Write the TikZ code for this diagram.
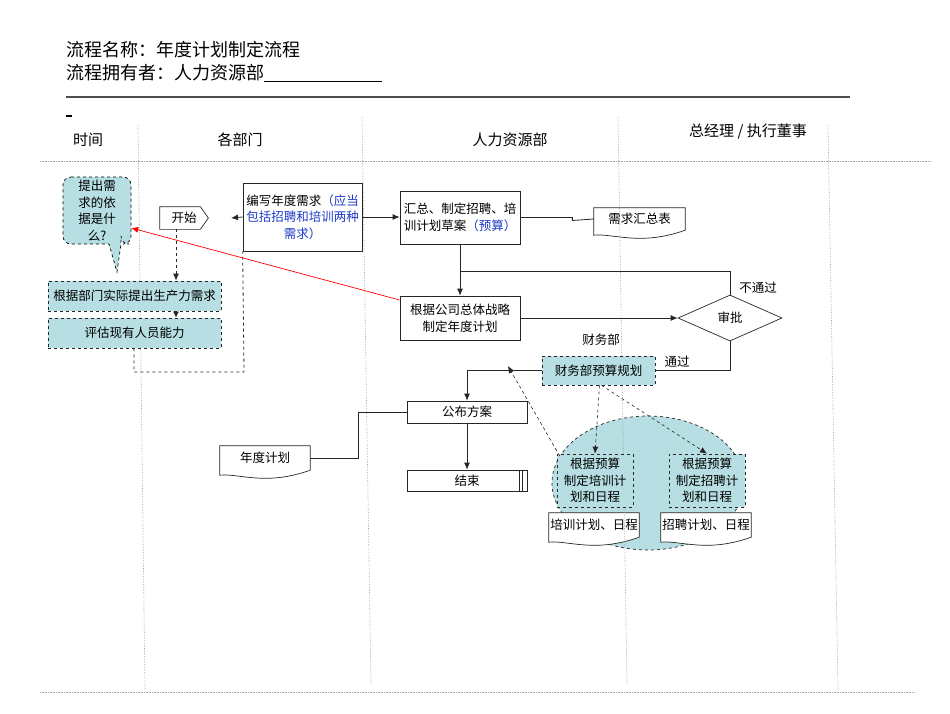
\documentclass[tikz,border=0pt]{standalone}
\usepackage{fontspec}
\setmainfont{Noto Sans CJK SC}
\usetikzlibrary{shapes.geometric,arrows.meta,calc,backgrounds}
\definecolor{tealfill}{RGB}{183,222,226}
\definecolor{bluetxt}{RGB}{30,60,200}
\newcommand{\docpath}[1]{\path[docline] (#1.north west) -- (#1.north east) -- (#1.south east) .. controls ($(#1.south east)+(-45,16)$) and ($(#1.south west)+(20,3)$) .. ($(#1.south west)+(0,5)$) -- cycle;}
\begin{document}
\begin{tikzpicture}[x=1pt,y=-1pt,
  nfont/.style={font=\fontsize{12.5}{16.5}\selectfont},
  pbox/.style={draw=black!85, line width=0.7pt, fill=white, inner sep=1pt, align=center, nfont},
  dbox/.style={pbox, dashed, fill=tealfill},
  docnode/.style={inner sep=1pt, nfont, minimum width=90},
  docline/.style={draw=black!85, line width=0.7pt, fill=white},
  lane/.style={draw=gray!75, densely dotted, line width=0.6pt},
  arr/.style={-{Latex[length=7pt,width=6pt]}},
  conn/.style={line width=0.8pt, draw=black!85},
  lbl/.style={nfont, inner sep=0},
  hdr/.style={font=\fontsize{15}{17}\selectfont, inner sep=0}
]
\useasboundingbox (0,0) rectangle (950,713);

% header
\node[anchor=west, font=\fontsize{18}{20}\selectfont, inner sep=0] (t1) at (66,50) {流程名称：年度计划制定流程};
\node[anchor=west, font=\fontsize{18}{20}\selectfont, inner sep=0] (t2) at (66,73) {流程拥有者：人力资源部\rule[-3pt]{118pt}{0.8pt}};
\draw[line width=1.3pt, black!70] (66,97) -- (850,97);
\node[inner sep=0] (dash) at (69,116) {\rule{6pt}{1.2pt}};

\node[hdr] (h1) at (88,140) {时间};
\node[hdr] (h2) at (240,140) {各部门};
\node[hdr] (h3) at (510,140) {人力资源部};
\node[hdr] (h4) at (748,132) {总经理 / 执行董事};

% callout
\draw[dashed, line width=0.7pt, fill=tealfill, rounded corners=8pt]
  (63,177) -- (131,177) -- (131,244) -- (121,244) [sharp corners] -- (121,244) -- (117,272) -- (109,244) [rounded corners=8pt] -- (63,244) -- cycle;
\node[lbl, align=center, minimum width=68, minimum height=67] (co) at (97,210.5) {提出需\\求的依\\据是什\\么?};

% nodes
\node[pbox, draw=none, fill=none, minimum width=48, minimum height=22] (st) at (184,218) {开始};
\draw[line width=0.7pt, draw=black!85] (st.north west) -- ([xshift=-8pt]st.north east) -- (st.east) -- ([xshift=-8pt]st.south east) -- (st.south west) -- cycle;

\node[pbox, minimum width=119, minimum height=68] (bx) at (302.5,217) {编写年度需求\textcolor{bluetxt}{（应当}\\\textcolor{bluetxt}{包括招聘和培训两种}\\\textcolor{bluetxt}{需求）}};
\node[pbox, minimum width=120, minimum height=53] (hz) at (460,217.5) {汇总、制定招聘、培\\训计划草案\textcolor{bluetxt}{（预算）}};
\node[docnode, minimum width=91, minimum height=22] (xq) at (639.5,219) {需求汇总表};

\node[dbox, minimum width=173, minimum height=30] (gj) at (134.5,296) {根据部门实际提出生产力需求};
\node[dbox, minimum width=173, minimum height=30] (pg) at (134.5,333) {评估现有人员能力};

\node[pbox, minimum width=120, minimum height=44] (zl) at (460,318) {根据公司总体战略\\制定年度计划};
\node[diamond, draw=black!85, line width=0.7pt, fill=white, nfont, minimum width=104, minimum height=46, inner sep=0] (sp) at (730,318) {审批};

\node[lbl] (l1) at (758,288) {不通过};
\node[lbl] (l2) at (601,340) {财务部};
\node[lbl] (l3) at (677,362) {通过};

\node[dbox, minimum width=113, minimum height=29] (cw) at (598.5,370.5) {财务部预算规划};

\node[pbox, minimum width=120, minimum height=22] (gb) at (467,412) {公布方案};
\node[pbox, minimum width=120, minimum height=21] (js) at (467,480.5) {结束};
\draw[line width=0.7pt, black!85] ([xshift=-8pt]js.north east) -- ([xshift=-8pt]js.south east);
\draw[line width=0.7pt, black!85] ([xshift=-5pt]js.north east) -- ([xshift=-5pt]js.south east);

\node[docnode, minimum height=24] (nd) at (265,458) {年度计划};

\node[dbox, minimum width=76, minimum height=53] (px) at (595,480.5) {根据预算\\制定培训计\\划和日程};
\node[dbox, minimum width=76, minimum height=53] (zp) at (707,480.5) {根据预算\\制定招聘计\\划和日程};
\node[docnode, minimum height=24, inner sep=0] (pxd) at (594,525) {培训计划、日程};
\node[docnode, minimum height=24, inner sep=0] (zpd) at (706,525) {招聘计划、日程};

% background: ellipse, documents, lanes
\begin{pgfonlayer}{background}
\node[ellipse, draw=black!85, dashed, line width=0.7pt, fill=tealfill, minimum width=192, minimum height=134, inner sep=0] (el) at (648,483) {};
\docpath{xq}
\docpath{nd}
\docpath{pxd}
\docpath{zpd}
\draw[lane] (40,161) -- (930,161);
\draw[lane] (40,692) -- (915,692);
\draw[lane] (138,125) -- (145,690);
\draw[lane] (362,117) -- (371,685);
\draw[lane] (618,117) -- (627,685);
\draw[lane] (828,125) -- (838,690);
\end{pgfonlayer}

% connectors
\coordinate (c1) at (244,372);
\coordinate (tip) at (231,218);
\coordinate (jn) at (460,271);
\coordinate (up) at (508,366);
\coordinate (sx) at ([xshift=-8pt]st.south);
\coordinate (gx) at ([xshift=41.5pt]gj.south);

\draw[conn, dashed, arr] (sx) -- (sx |- gj.north);
\draw[conn, -{Latex[length=6pt,width=6pt]}] (gx) -- (gx |- pg.north);
\draw[conn, dashed] ([xshift=-0.5pt]pg.south) |- (c1) -- (bx.south west);
\draw[conn, arr] (bx.west) -- (tip);
\draw[conn, arr] (bx.east) -- (bx.east -| hz.west);
\draw[conn] (hz.east) -- ++(52,0) -- ++(0,3) -- (xq.west);
\draw[conn, arr] (hz.south) -- (zl.north);
\draw[conn] (sp.north) |- (jn);
\draw[conn, arr] (zl.east) -- (sp.west);
\draw[conn] (sp.south) |- (cw.east);
\draw[conn, arr] (cw.west) -| (gb.north);
\draw[conn, arr] (gb.south) -- (js.north);
\draw[conn] (nd.east) -- ++(48,0) |- (gb.west);
\draw[red, line width=0.7pt, arr] ([yshift=18pt]zl.west) -- ([yshift=-17.5pt]co.east);
\draw[conn, dashed, line width=0.6pt, arr] (el.163) -- (up);
\draw[conn, dashed, line width=0.6pt, arr] ([xshift=1pt]cw.south) -- (px.north);
\draw[conn, dashed, line width=0.6pt, arr] ([xshift=3pt]cw.south) -- (zp.north);
\end{tikzpicture}
\end{document}
